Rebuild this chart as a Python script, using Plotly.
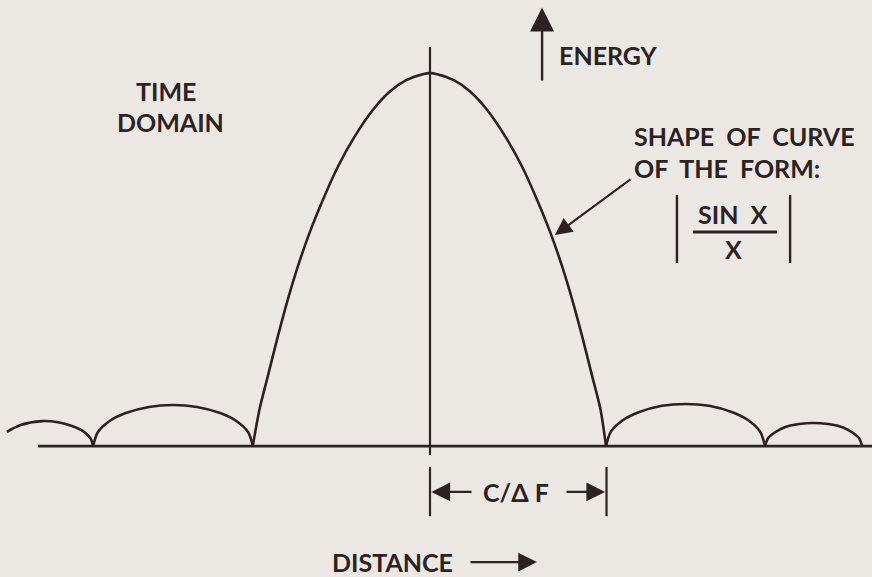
import plotly.graph_objects as go

# ---- data (distance in units of C/ΔF, energy normalised to peak) ----
main_left_x = [-1.004, -0.966, -0.919, -0.862, -0.806, -0.749, -0.683, -0.607, -0.522,
               -0.428, -0.324, -0.229, -0.135, -0.041, 0.0]
main_left_y = [0.0, 0.098, 0.187, 0.294, 0.392, 0.481, 0.571, 0.660, 0.749,
               0.829, 0.901, 0.950, 0.981, 0.997, 1.0]
main_right_x = [0.041, 0.135, 0.229, 0.324, 0.428, 0.522, 0.607, 0.683, 0.749,
                0.806, 0.862, 0.919, 0.966, 0.997]
main_right_y = [0.997, 0.981, 0.950, 0.901, 0.829, 0.749, 0.660, 0.571, 0.481,
                0.392, 0.294, 0.187, 0.098, 0.0]

lobe_l2_x = [-2.397, -2.323, -2.198, -2.108, -2.028, -1.972, -1.938, -1.921, -1.909]
lobe_l2_y = [0.038, 0.056, 0.067, 0.064, 0.054, 0.042, 0.029, 0.019, 0.0]

lobe_l1_x = [-1.909, -1.882, -1.819, -1.728, -1.592, -1.456, -1.320, -1.184, -1.093, -1.030, -1.003]
lobe_l1_y = [0.0, 0.037, 0.066, 0.088, 0.105, 0.110, 0.105, 0.088, 0.066, 0.037, 0.0]

lobe_r1_x = [0.997, 1.024, 1.088, 1.178, 1.314, 1.448, 1.581, 1.717, 1.807, 1.871, 1.898]
lobe_r1_y = [0.0, 0.038, 0.068, 0.090, 0.108, 0.113, 0.108, 0.090, 0.068, 0.038, 0.0]

lobe_r2_x = [1.898, 1.915, 1.955, 2.006, 2.091, 2.173, 2.255, 2.340, 2.391, 2.431, 2.448]
lobe_r2_y = [0.0, 0.021, 0.037, 0.050, 0.059, 0.062, 0.059, 0.050, 0.037, 0.021, 0.0]

resolution_width = 1.0   # C/ΔF
labels = {
    "energy": "ENERGY",
    "domain1": "TIME",
    "domain2": "DOMAIN",
    "shape1": "SHAPE  OF  CURVE",
    "shape2": "OF  THE  FORM:",
    "num": "SIN  X",
    "den": "X",
    "res": "C/Δ F",
    "distance": "DISTANCE",
}

INK = "#2b2222"
BG = "#ebe8e4"
FONT = dict(family="Lato, 'Open Sans', sans-serif", size=25, color=INK, weight="bold")

main_x = main_left_x + main_right_x
main_y = main_left_y + main_right_y

fig = go.Figure()
for xs, ys in [(lobe_l2_x, lobe_l2_y), (lobe_l1_x, lobe_l1_y), (main_x, main_y),
               (lobe_r1_x, lobe_r1_y), (lobe_r2_x, lobe_r2_y)]:
    fig.add_trace(go.Scatter(x=xs, y=ys, mode="lines",
                             line=dict(color=INK, width=2.6, shape="spline", smoothing=0.8),
                             hoverinfo="skip", showlegend=False))

shapes = [
    dict(type="line", x0=-2.221, x1=2.51, y0=0, y1=0, line=dict(color=INK, width=2.6)),
    dict(type="line", x0=0, x1=0, y0=-0.024, y1=1.070, line=dict(color=INK, width=2.2)),
    dict(type="line", x0=0, x1=0, y0=-0.188, y1=-0.056, line=dict(color=INK, width=2.2)),
    dict(type="line", x0=resolution_width, x1=resolution_width, y0=-0.188, y1=-0.056,
         line=dict(color=INK, width=2.2)),
    dict(type="line", x0=1.490, x1=1.966, y0=0.574, y1=0.574, line=dict(color=INK, width=3)),
    dict(type="line", x0=1.399, x1=1.399, y0=0.491, y1=0.673, line=dict(color=INK, width=2.4)),
    dict(type="line", x0=2.040, x1=2.040, y0=0.491, y1=0.673, line=dict(color=INK, width=2.4)),
]

def arrow(x, y, ax, ay, size=1.5, width=2.2):
    return dict(x=x, y=y, ax=ax, ay=ay, xref="x", yref="y", axref="x", ayref="y",
                text="", showarrow=True, arrowhead=2, arrowsize=size, arrowwidth=width,
                arrowcolor=INK)

def label(text, x, y, xanchor="center"):
    return dict(x=x, y=y, xref="x", yref="y", text=text, showarrow=False,
                xanchor=xanchor, yanchor="middle", font=FONT)

annotations = [
    arrow(0.635, 1.176, 0.635, 0.976, size=2.0, width=2.4),
    arrow(0.708, 0.566, 1.144, 0.718, size=1.7, width=2.0),
    arrow(0.008, -0.123, 0.244, -0.123, size=1.7, width=2.2),
    arrow(resolution_width - 0.008, -0.123, 0.765, -0.123, size=1.7, width=2.2),
    arrow(0.606, -0.311, 0.221, -0.311, size=1.7, width=2.2),
    label(labels["energy"], 0.720, 1.048, "left"),
    label(labels["domain1"], -1.498, 0.953),
    label(labels["domain2"], -1.470, 0.868),
    label(labels["shape1"], 1.144, 0.831, "left"),
    label(labels["shape2"], 1.144, 0.745, "left"),
    label(labels["num"], 1.717, 0.622),
    label(labels["den"], 1.722, 0.528),
    label(labels["res"], 0.487, -0.123),
    label(labels["distance"], -0.210, -0.311),
]

fig.update_layout(
    width=872, height=577,
    margin=dict(l=0, r=0, t=0, b=0),
    paper_bgcolor=BG, plot_bgcolor=BG,
    xaxis=dict(range=[-2.436, 2.504], visible=False, fixedrange=True),
    yaxis=dict(range=[-0.351, 1.196], visible=False, fixedrange=True),
    shapes=shapes, annotations=annotations, showlegend=False,
)

fig.write_html(
    "out.html",
    config={"displayModeBar": False},
    post_script="document.body.style.margin='0';document.body.style.overflow='hidden';"
                "document.documentElement.style.background='%s';" % BG,
)
